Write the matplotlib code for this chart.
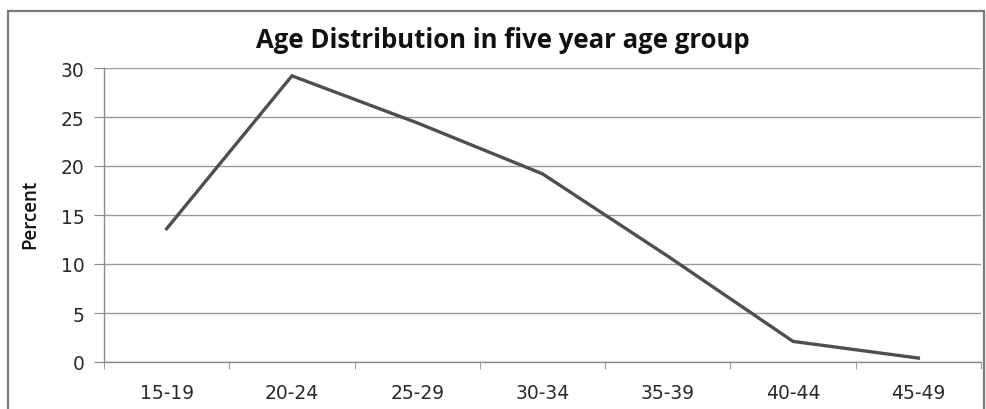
import matplotlib
matplotlib.use("Agg")
import matplotlib.pyplot as plt
from matplotlib.patches import Rectangle

age_groups = ["15-19", "20-24", "25-29", "30-34", "35-39", "40-44", "45-49"]
percent = [13.6, 29.2, 24.4, 19.2, 10.8, 2.1, 0.4]
y_ticks = [0, 5, 10, 15, 20, 25, 30]

W, H, DPI = 986, 410, 100
fig = plt.figure(figsize=(W / DPI, H / DPI), dpi=DPI)
fig.patch.set_facecolor("white")

def fx(px):
    return px / W

def fy(py):
    return 1 - py / H

# outer chart frame
fig.add_artist(Rectangle((fx(8), fy(415)), fx(984) - fx(8), fy(12) - fy(415),
                         transform=fig.transFigure, fill=False,
                         edgecolor="#7a7a7a", linewidth=1.6))

left, right, top, bottom = 104, 981, 69, 363
ax = fig.add_axes([fx(left), fy(bottom), fx(right) - fx(left), fy(top) - fy(bottom)])

x = list(range(len(age_groups)))
ax.plot(x, percent, color="#4f4f4f", linewidth=2.4, solid_joinstyle="miter")

ax.set_xlim(-0.5, len(age_groups) - 0.5)
ax.set_ylim(0, 30)
ax.set_yticks(y_ticks)
ax.set_yticklabels([str(v) for v in y_ticks], fontsize=13.5, family="DejaVu Sans", color="#2a2a2a")
ax.set_xticks(x)
ax.set_xticklabels(age_groups, fontsize=13.5, family="DejaVu Sans", color="#2a2a2a")
ax.set_xticks([i - 0.5 for i in range(len(age_groups) + 1)], minor=True)
ax.tick_params(axis="x", which="major", length=0, pad=15)
ax.tick_params(axis="x", which="minor", length=5, color="#8a8a8a", direction="out")
ax.tick_params(axis="y", length=7, color="#8a8a8a", direction="out", pad=7)

ax.yaxis.grid(True, color="#9a9a9a", linewidth=1.0)
ax.set_axisbelow(True)
for side in ("top", "right"):
    ax.spines[side].set_visible(False)
for side in ("left", "bottom"):
    ax.spines[side].set_color("#8a8a8a")
    ax.spines[side].set_linewidth(1.0)

fig.text(fx(30), fy(214), "Percent", rotation=90, ha="center", va="center",
         fontsize=13.5, family="Open Sans", fontweight="semibold", color="#111111")

fig.text(fx(503), fy(48), "Age Distribution in five year age group",
         ha="center", va="baseline", fontsize=18.5, family="Open Sans",
         fontweight="bold", color="#111111")

fig.savefig("out.png", dpi=DPI)
